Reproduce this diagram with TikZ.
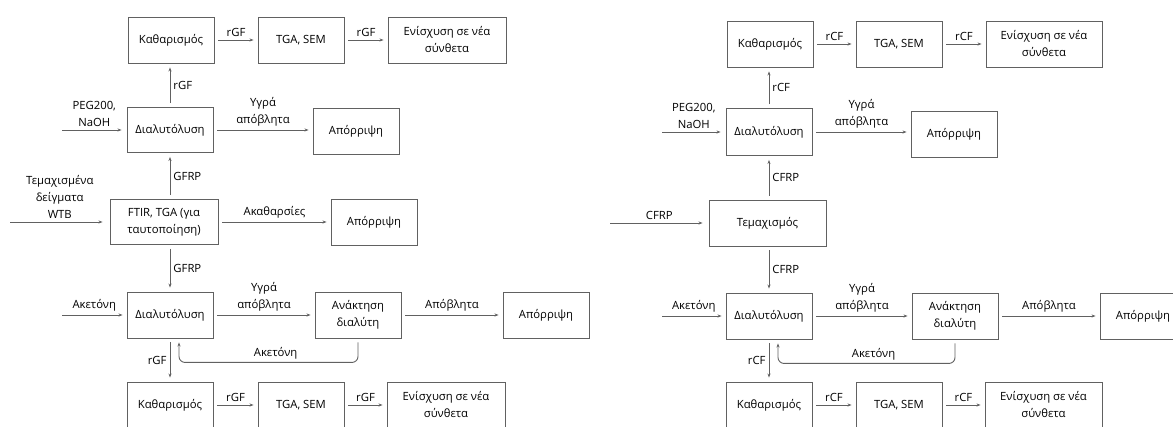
\documentclass[tikz,border=0pt]{standalone}
\usepackage{fontspec}
\setmainfont{Open Sans}
\usetikzlibrary{arrows.meta,calc}
\begin{document}
\begin{tikzpicture}[x=1pt,y=-1pt,
  every node/.style={font=\fontsize{11.3}{17}\selectfont, text=black},
  box/.style={draw=black!62, line width=0.9pt, minimum height=46pt, align=center, inner sep=2pt},
  arr/.style={draw=black!62, line width=0.9pt, -{Stealth[length=4pt,width=3pt]}},
  gap/.style={shorten <=4pt, shorten >=4pt},
  lab/.style={align=center, inner sep=3pt}
]
\useasboundingbox (0,0) rectangle (1173,427);
\fill[white] (0,0) rectangle (1173,427);

% ---------------- left diagram ----------------
\node[box, minimum width=86pt] (k1) at (171,40) {Καθαρισμός};
\node[box, minimum width=86pt] (t1) at (301,40) {TGA, SEM};
\node[box, minimum width=118pt] (e1) at (447,40) {Ενίσχυση σε νέα\\σύνθετα};
\node[box, minimum width=86pt, minimum height=45pt] (d1) at (170,130) {Διαλυτόλυση};
\node[box, minimum width=86pt] (a1) at (356,131) {Απόρριψη};
\node[box, minimum width=108pt, minimum height=45pt] (f) at (164,222) {FTIR, TGA (για\\ταυτοποίηση)};
\node[box, minimum width=86pt] (a2) at (374,222) {Απόρριψη};
\node[box, minimum width=86pt] (d2) at (170,315) {Διαλυτόλυση};
\node[box, minimum width=86pt] (r2) at (358,315) {Ανάκτηση\\διαλύτη};
\node[box, minimum width=86pt] (a3) at (546,315) {Απόρριψη};
\node[box, minimum width=86pt] (k2) at (170,405) {Καθαρισμός};
\node[box, minimum width=86pt] (t2) at (301,405) {TGA, SEM};
\node[box, minimum width=118pt] (e2) at (446,405) {Ενίσχυση σε νέα\\σύνθετα};

\coordinate (inPEG) at (62,130);
\coordinate (inWTB) at (10,222);
\coordinate (inAc) at (62,315);

\draw[arr,gap] (k1) -- node[lab,above]{rGF} (t1);
\draw[arr,gap] (t1) -- node[lab,above]{rGF} (e1);
\draw[arr,gap] (d1.north) -- node[lab,right]{rGF} (d1.north |- k1.south);
\draw[arr,shorten >=5pt] (inPEG) -- node[lab,above]{PEG200,\\NaOH} (d1.west);
\draw[arr,gap] (d1.east) -- node[lab,above]{Υγρά\\απόβλητα} (d1.east -| a1.west);
\draw[arr,gap] (f.north -| d1.south) -- node[lab,right]{GFRP} (d1.south);
\draw[arr,shorten >=7pt] (inWTB) -- node[lab,above]{Τεμαχισμένα\\δείγματα\\WTB} (f.west);
\draw[arr,gap] (f.east) -- node[lab,above]{Ακαθαρσίες} (f.east -| a2.west);
\draw[arr,gap] (f.south -| d2.north) -- node[lab,right]{GFRP} (d2.north);
\draw[arr,shorten >=4pt] (inAc) -- node[lab,above]{Ακετόνη} (d2.west);
\draw[arr,gap] (d2) -- node[lab,above]{Υγρά\\απόβλητα} (r2);
\draw[arr,gap] (r2) -- node[lab,above]{Απόβλητα} (a3);
\draw[arr,gap,rounded corners=6pt] (r2.south) -- ++(0,24) -| node[lab,pos=0.23,above]{Ακετόνη} ([xshift=9pt]d2.south);
\draw[arr,gap] (d2.south) -- node[lab,left]{rGF} (d2.south |- k2.north);
\draw[arr,gap] (k2) -- node[lab,above]{rGF} (t2);
\draw[arr,gap] (t2) -- node[lab,above]{rGF} (e2);

% ---------------- right diagram ----------------
\node[box, minimum width=86pt] (K1) at (770,44) {Καθαρισμός};
\node[box, minimum width=86pt] (T1) at (899,44) {TGA, SEM};
\node[box, minimum width=116pt] (E1) at (1044,44) {Ενίσχυση σε νέα\\σύνθετα};
\node[box, minimum width=86pt, minimum height=47pt] (D1) at (769,132) {Διαλυτόλυση};
\node[box, minimum width=86pt] (A1) at (954,134) {Απόρριψη};
\node[box, minimum width=117pt] (TM) at (767.5,223) {Τεμαχισμός};
\node[box, minimum width=86pt] (D2) at (769,316) {Διαλυτόλυση};
\node[box, minimum width=86pt] (R2) at (955,316) {Ανάκτηση\\διαλύτη};
\node[box, minimum width=86pt] (A3) at (1143,316) {Απόρριψη};
\node[box, minimum width=86pt] (K2) at (769,405) {Καθαρισμός};
\node[box, minimum width=86pt] (T2) at (899,405) {TGA, SEM};
\node[box, minimum width=117pt] (E2) at (1043.5,405) {Ενίσχυση σε νέα\\σύνθετα};

\coordinate (InPEG) at (662,132);
\coordinate (InCF) at (610,223);
\coordinate (InAc) at (662,316);

\draw[arr,gap] (K1) -- node[lab,above]{rCF} (T1);
\draw[arr,gap] (T1) -- node[lab,above]{rCF} (E1);
\draw[arr,gap] (D1.north) -- node[lab,right]{rCF} (D1.north |- K1.south);
\draw[arr,shorten >=5pt] (InPEG) -- node[lab,above]{PEG200,\\NaOH} (D1.west);
\draw[arr,gap] (D1.east) -- node[lab,above]{Υγρά\\απόβλητα} (D1.east -| A1.west);
\draw[arr,gap] (TM.north -| D1.south) -- node[lab,right]{CFRP} (D1.south);
\draw[arr,shorten >=6pt] (InCF) -- node[lab,above]{CFRP} (TM.west);
\draw[arr,gap] (TM.south -| D2.north) -- node[lab,right]{CFRP} (D2.north);
\draw[arr,shorten >=4pt] (InAc) -- node[lab,above]{Ακετόνη} (D2.west);
\draw[arr,gap] (D2) -- node[lab,above]{Υγρά\\απόβλητα} (R2);
\draw[arr,gap] (R2) -- node[lab,above]{Απόβλητα} (A3);
\draw[arr,gap,rounded corners=6pt] (R2.south) -- ++(0,24) -| node[lab,pos=0.23,above]{Ακετόνη} ([xshift=9pt]D2.south);
\draw[arr,gap] (D2.south) -- node[lab,left]{rCF} (D2.south |- K2.north);
\draw[arr,gap] (K2) -- node[lab,above]{rCF} (T2);
\draw[arr,gap] (T2) -- node[lab,above]{rCF} (E2);
\end{tikzpicture}
\end{document}
